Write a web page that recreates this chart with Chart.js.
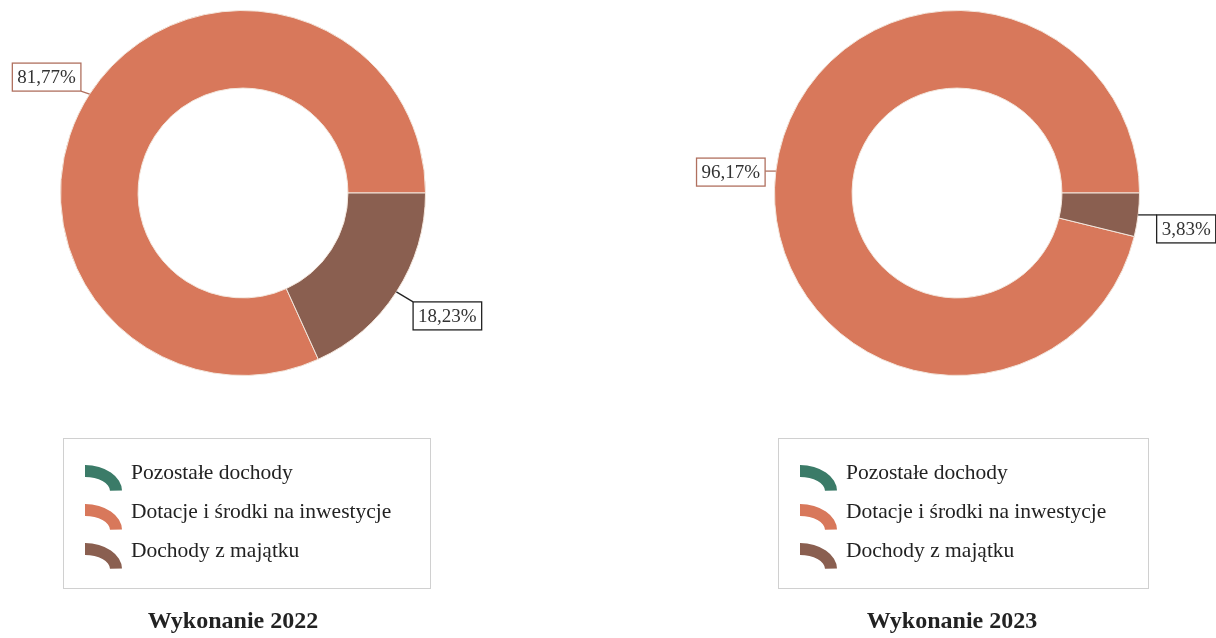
<!DOCTYPE html>
<html>
<head>
<meta charset="utf-8">
<script src="https://cdn.jsdelivr.net/npm/chart.js@4.4.1/dist/chart.umd.min.js"></script>
<style>
    body { margin: 0; background: #fff; }
    .wrap { position: relative; width: 1216px; height: 638px; }
    canvas { position: absolute; top: 0; }
</style>
</head>
<body>
<div class="wrap">
    <canvas id="chart2022" width="608" height="638" style="left:0"></canvas>
    <canvas id="chart2023" width="608" height="638" style="left:608px"></canvas>
</div>
<script>
//================================ Data =================================

const categories = ['Pozostałe dochody', 'Dotacje i środki na inwestycje', 'Dochody z majątku'];
const values2022 = [0, 81.77, 18.23];
const values2023 = [0, 96.17, 3.83];
const chartTitles = ['Wykonanie 2022', 'Wykonanie 2023'];

const sliceColors = ['#3b7b68', '#d8785b', '#8a5f50'];
const labelBorders = ['#3b7b68', '#b0705f', '#222222'];

//================================ Plugins =================================

function fmtPct(v) {
    return v.toFixed(2).replace('.', ',') + '%';
}

// value boxes with leader lines, like the excel data labels
const boxLabels = {
    id: 'boxLabels',
    afterDatasetsDraw(chart, args, opts) {
        const ctx = chart.ctx;
        const meta = chart.getDatasetMeta(0);
        const data = chart.data.datasets[0].data;
        ctx.save();
        ctx.font = '19px "Liberation Serif", serif';
        ctx.textAlign = 'center';
        ctx.textBaseline = 'middle';
        meta.data.forEach((arc, i) => {
            if (!data[i]) return;
            const p = arc.getProps(['x', 'y', 'startAngle', 'endAngle', 'outerRadius'], true);
            const mid = (p.startAngle + p.endAngle) / 2;
            const ax = p.x + Math.cos(mid) * p.outerRadius;
            const ay = p.y + Math.sin(mid) * p.outerRadius;
            const off = opts.offsets[i];
            const text = fmtPct(data[i]);
            const w = ctx.measureText(text).width + 10;
            const h = 28;
            const cx = ax + off[0];
            const cy = ay + off[1];
            const x0 = cx - w / 2, y0 = cy - h / 2;
            const nx = Math.min(Math.max(ax, x0), x0 + w);
            const ny = Math.min(Math.max(ay, y0), y0 + h);

            ctx.strokeStyle = labelBorders[i];
            ctx.lineWidth = 1.3;
            ctx.beginPath();
            ctx.moveTo(ax, ay);
            ctx.lineTo(nx, ny);
            ctx.stroke();

            ctx.fillStyle = '#fff';
            ctx.fillRect(x0, y0, w, h);
            ctx.strokeRect(x0, y0, w, h);
            ctx.fillStyle = '#333';
            ctx.fillText(text, cx, cy + 1);
        });
        ctx.restore();
    }
};

// boxed vertical legend with arc icons + title underneath
const ringLegend = {
    id: 'ringLegend',
    afterDraw(chart, args, opts) {
        const ctx = chart.ctx;
        const bg = chart.data.datasets[0].backgroundColor;
        ctx.save();
        ctx.strokeStyle = '#d0d0d0';
        ctx.lineWidth = 1;
        ctx.strokeRect(opts.x + 0.5, opts.y + 0.5, opts.w, opts.h);

        ctx.font = '21.5px "Liberation Serif", serif';
        ctx.textBaseline = 'middle';
        ctx.textAlign = 'left';
        chart.data.labels.forEach((lab, i) => {
            const rowY = opts.y + 34 + i * 39;
            const ix = opts.x + 22;
            // icon: piece of a squashed ring
            const ey = rowY - 7 + 26;
            ctx.fillStyle = bg[i];
            ctx.beginPath();
            ctx.ellipse(ix, ey, 37, 26, 0, -Math.PI / 2, -0.02);
            ctx.ellipse(ix, ey, 25, 14, 0, -0.02, -Math.PI / 2, true);
            ctx.closePath();
            ctx.fill();

            ctx.fillStyle = '#222';
            ctx.fillText(lab, opts.x + 68, rowY + 1);
        });

        ctx.font = 'bold 24px "Liberation Serif", serif';
        ctx.textAlign = 'center';
        ctx.fillStyle = '#222';
        ctx.fillText(opts.title, opts.titleX, 622);
        ctx.restore();
    }
};

//================================ Charts =================================

function makeChart(id, values, title, padding, legendPos, titleX, offsets) {
    const total = values.reduce((a, b) => a + b, 0);
    // excel chart has "Dochody z majatku" starting at 3 o'clock
    const before = values[0] + values[1];
    const rotation = 90 - 360 * before / total;

    return new Chart(document.getElementById(id), {
        type: 'doughnut',
        data: {
            labels: categories,
            datasets: [{
                data: values,
                backgroundColor: sliceColors,
                borderColor: '#f3e6dc',
                borderWidth: 1
            }]
        },
        options: {
            responsive: false,
            animation: false,
            rotation: rotation,
            cutout: '57.5%',
            layout: { padding: padding },
            plugins: {
                legend: { display: false },
                tooltip: { enabled: false },
                boxLabels: { offsets: offsets },
                ringLegend: {
                    x: legendPos[0], y: legendPos[1], w: legendPos[2], h: legendPos[3],
                    title: title, titleX: titleX
                }
            }
        },
        plugins: [boxLabels, ringLegend]
    });
}

makeChart('chart2022', values2022, chartTitles[0],
    { top: 10, bottom: 262, left: 60, right: 182 },
    [63, 438, 367, 150], 233,
    [[0, 0], [-43, -17], [51, 24]]);

makeChart('chart2023', values2023, chartTitles[1],
    { top: 10, bottom: 262, left: 166, right: 76 },
    [170, 438, 370, 150], 344,
    [[0, 0], [-45, 1], [48, 14]]);
</script>
</body>
</html>
